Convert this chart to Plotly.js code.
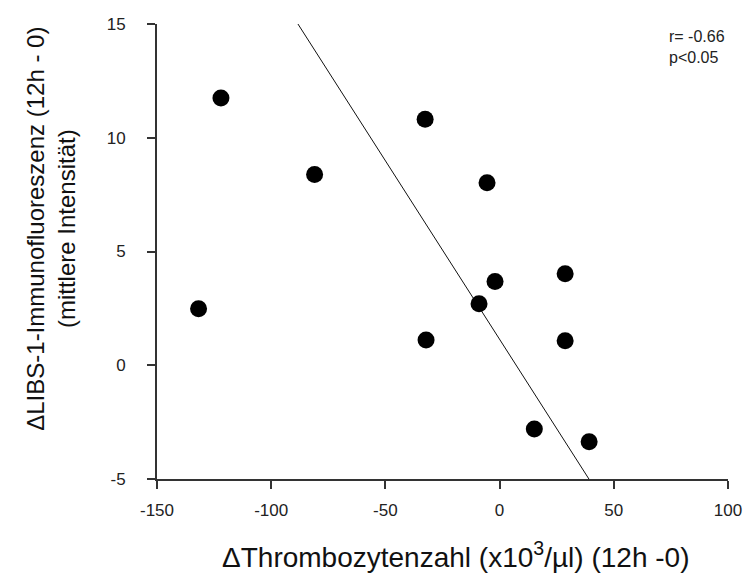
<!DOCTYPE html>
<html>
<head>
<meta charset="utf-8">
<script src="https://cdn.plot.ly/plotly-3.0.1.min.js"></script>
<style>
  html, body { margin: 0; padding: 0; background: #fff; }
  #chart { width: 744px; height: 573px; }
</style>
</head>
<body>
<div id="chart"></div>
<script>
// Change in platelet count (x10^3/µl, 12h - 0) per patient
const plateletDelta = [-122.0, -81.0, -131.8, -32.6, -5.5, -2.0, -9.0, 28.7, -32.2, 28.7, 15.2, 39.2];
// Change in LIBS-1 immunofluorescence (mean intensity, 12h - 0)
const libsDelta = [11.75, 8.38, 2.48, 10.81, 8.02, 3.68, 2.70, 4.02, 1.11, 1.08, -2.80, -3.36];

// Fitted regression line (y = intercept + slope * x)
const fitIntercept = 1.14;
const fitSlope = -0.157;

const xTicks = [-150, -100, -50, 0, 50, 100];
const yTicks = [-5, 0, 5, 10, 15];

const xMin = Math.min(...plateletDelta);
const xMax = Math.max(...plateletDelta);
const fitX = [xMin, xMax];
const fitY = fitX.map(v => fitIntercept + fitSlope * v);

const font = 'Liberation Sans, Arial, sans-serif';
const axisColor = '#333333';

const traces = [
  {
    x: fitX, y: fitY, type: 'scatter', mode: 'lines',
    line: { color: '#111111', width: 1 },
    hoverinfo: 'skip', showlegend: false
  },
  {
    x: plateletDelta, y: libsDelta, type: 'scatter', mode: 'markers',
    marker: { color: '#000000', size: 17 },
    cliponaxis: false, showlegend: false
  }
];

const layout = {
  width: 744, height: 573,
  margin: { l: 157, r: 16, t: 24, b: 94 },
  paper_bgcolor: '#ffffff', plot_bgcolor: '#ffffff',
  font: { family: font, color: '#1a1a1a', size: 16 },
  showlegend: false,
  xaxis: {
    range: [-150, 100], tickvals: xTicks, ticktext: xTicks.map(String),
    showgrid: false, zeroline: false,
    showline: true, linecolor: axisColor, linewidth: 2,
    ticks: 'outside', ticklen: 8, tickwidth: 2, tickcolor: axisColor,
    ticklabelstandoff: 7,
    tickfont: { family: font, size: 17, color: '#222222' }
  },
  yaxis: {
    range: [-5, 15], tickvals: yTicks, ticktext: yTicks.map(String),
    showgrid: false, zeroline: false,
    showline: true, linecolor: axisColor, linewidth: 2,
    ticks: 'outside', ticklen: 8, tickwidth: 2, tickcolor: axisColor,
    ticklabelstandoff: 18,
    tickfont: { family: font, size: 17, color: '#222222' }
  },
  annotations: [
    {
      xref: 'paper', yref: 'paper', x: 0.522, y: -0.167,
      xanchor: 'center', yanchor: 'middle', showarrow: false,
      text: '\u0394Thrombozytenzahl (x10<sup>3</sup>/\u00b5l) (12h -0)',
      font: { family: font, size: 28, color: '#111111' }
    },
    {
      xref: 'paper', yref: 'paper', x: -0.1856, y: 0.55,
      xanchor: 'center', yanchor: 'middle', showarrow: false, textangle: -90,
      text: '\u0394LIBS-1-Immunofluoreszenz (12h - 0)<br>(mittlere Intensit\u00e4t)',
      font: { family: font, size: 24, color: '#111111' }
    },
    {
      xref: 'paper', yref: 'paper', x: 0.893, y: 0.9956,
      xanchor: 'left', yanchor: 'top', showarrow: false, align: 'left',
      text: 'r= -0.66<br>p&lt;0.05',
      font: { family: font, size: 16, color: '#222222' }
    }
  ]
};

Plotly.newPlot('chart', traces, layout, { displayModeBar: false, staticPlot: true });
</script>
</body>
</html>
